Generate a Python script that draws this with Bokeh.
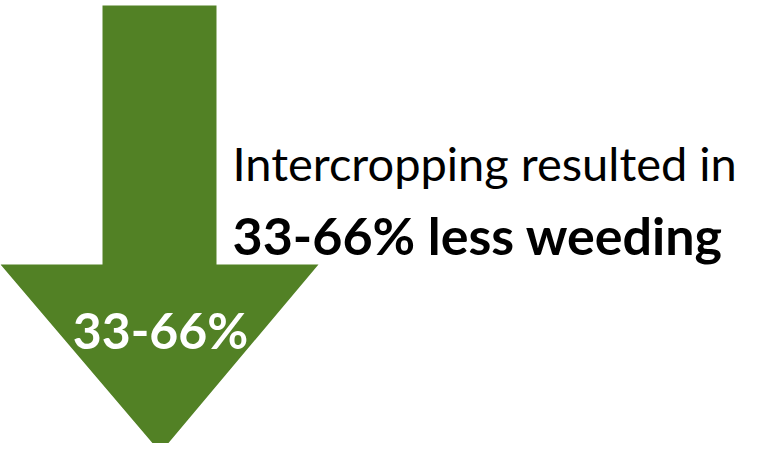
from bokeh.plotting import figure
from bokeh.models import Range1d
from bokeh.core.properties import value
from bokeh.embed import file_html
from bokeh.resources import INLINE

# content
reduction_low = 33
reduction_high = 66
headline = "Intercropping resulted in"
subline = f"{reduction_low}-{reduction_high}% less weeding"
arrow_label = f"{reduction_low}-{reduction_high}%"

GREEN = "#528125"
W, H = 744, 443

p = figure(width=W, height=H, output_backend="svg", toolbar_location=None,
           x_range=Range1d(0, W), y_range=Range1d(H, 0), min_border=0)
p.axis.visible = False
p.grid.visible = False
p.outline_line_color = None
p.background_fill_color = "white"

# arrow shape (pixel layout)
shaft_l, shaft_r, shaft_top = 102, 216, 5
head_l, head_r, head_y = 0, 318, 264
tip_x, tip_y = 160, 452
xs = [shaft_l, shaft_r, shaft_r, head_r, tip_x, head_l, shaft_l, shaft_l]
ys = [shaft_top, shaft_top, head_y, head_y, tip_y, head_y, head_y, shaft_top]
p.patch(xs, ys, fill_color=GREEN, line_color=None)

p.text(x=[tip_x], y=[329], text=[arrow_label], text_color="white",
       text_font=value("Lato"), text_font_style="bold", text_font_size="50px",
       text_align="center", text_baseline="alphabetic")

p.text(x=[232], y=[162], text=[headline], text_color="black",
       text_font=value("Lato"), text_font_size="47px",
       text_align="left", text_baseline="alphabetic")
p.text(x=[232], y=[234], text=[subline], text_color="black",
       text_font=value("Lato"), text_font_style="bold", text_font_size="52px",
       text_align="left", text_baseline="alphabetic")

open("out.html", "w").write(file_html(p, INLINE))
